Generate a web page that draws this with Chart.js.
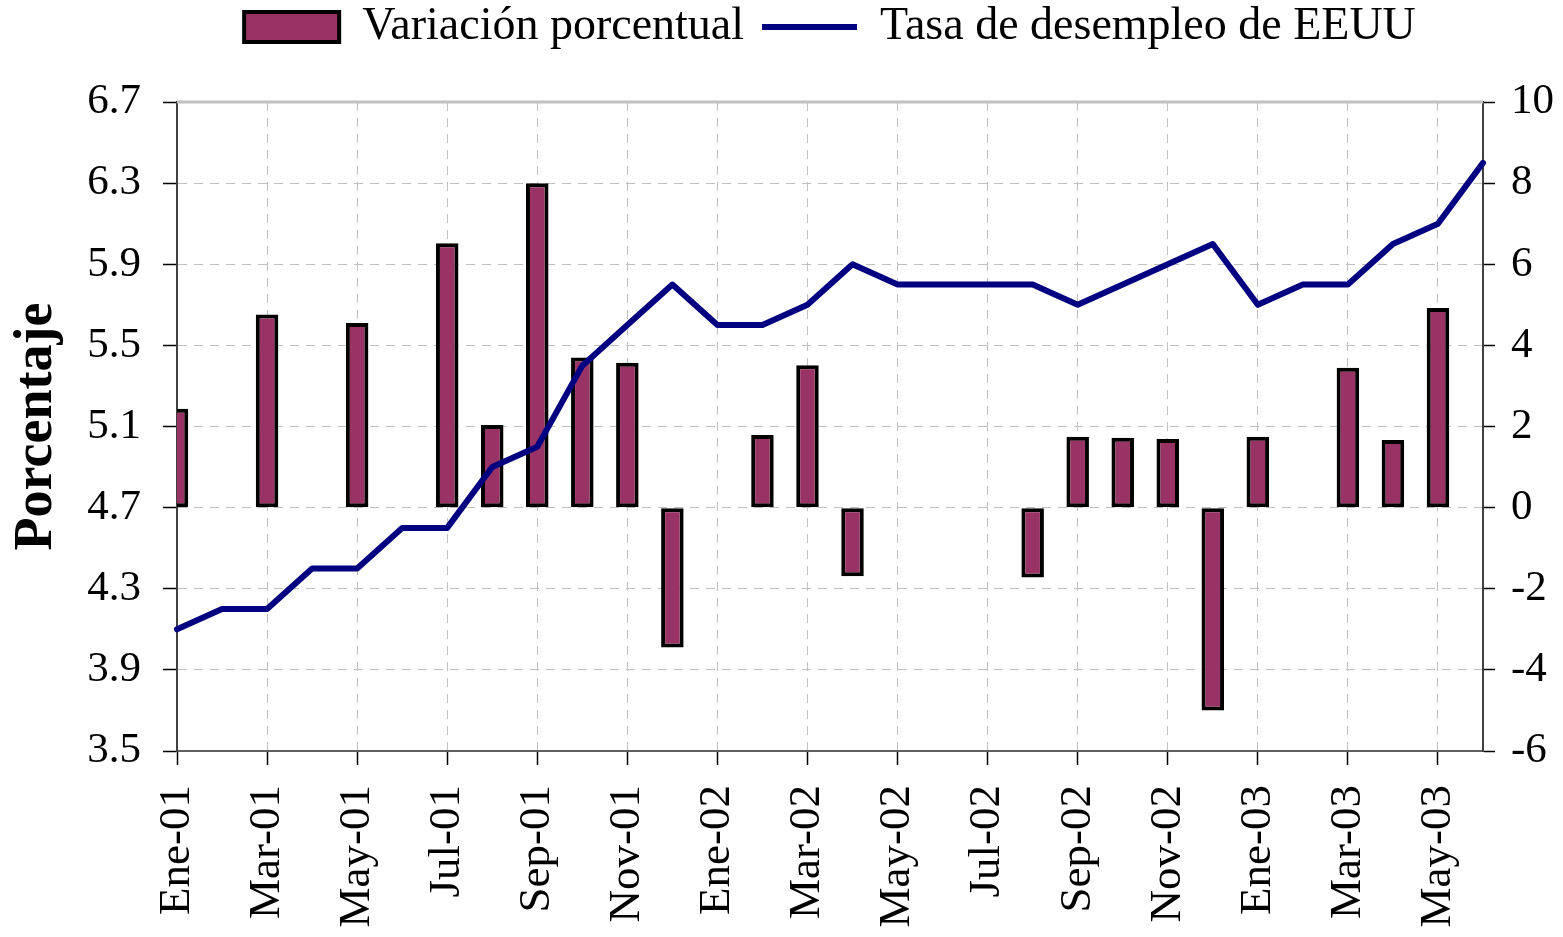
<!DOCTYPE html>
<html lang="es">
<head>
<meta charset="utf-8">
<title>Tasa de desempleo de EEUU</title>
<script src="https://cdn.jsdelivr.net/npm/chart.js@4.4.1/dist/chart.umd.min.js"></script>
<style>
  html, body { margin: 0; padding: 0; background: #fff; }
  #chart { display: block; }
</style>
</head>
<body>
<canvas id="chart" width="1563" height="937"></canvas>
<script>
const months = [
  'Ene-01', 'Feb-01', 'Mar-01', 'Abr-01', 'May-01', 'Jun-01', 'Jul-01', 'Ago-01', 'Sep-01', 'Oct-01', 'Nov-01', 'Dic-01',
  'Ene-02', 'Feb-02', 'Mar-02', 'Abr-02', 'May-02', 'Jun-02', 'Jul-02', 'Ago-02', 'Sep-02', 'Oct-02', 'Nov-02', 'Dic-02',
  'Ene-03', 'Feb-03', 'Mar-03', 'Abr-03', 'May-03', 'Jun-03'
];

// Tasa de desempleo (eje izquierdo)
const unemploymentRate = [
  4.1, 4.2, 4.2, 4.4, 4.4, 4.6, 4.6, 4.9, 5.0, 5.4, 5.6, 5.8,
  5.6, 5.6, 5.7, 5.9, 5.8, 5.8, 5.8, 5.8, 5.7, 5.8, 5.9, 6.0,
  5.7, 5.8, 5.8, 6.0, 6.1, 6.4
];

// Variación porcentual (eje derecho)
const percentChange = [
  2.44, 0, 4.76, 0, 4.55, 0, 6.52, 2.04, 8.0, 3.7, 3.57, -3.45,
  0, 1.79, 3.51, -1.69, 0, 0, 0, -1.72, 1.75, 1.72, 1.69, -5.0,
  1.75, 0, 3.45, 1.67, 4.92, 0
];

const rateTicks = [3.5, 3.9, 4.3, 4.7, 5.1, 5.5, 5.9, 6.3, 6.7];
const changeTicks = [-6, -4, -2, 0, 2, 4, 6, 8, 10];

const FONT = "'Liberation Serif', 'Times New Roman', serif";

// solid grey line along the top of the plot area
const topBorder = {
  id: 'topBorder',
  beforeDatasetsDraw(chart) {
    const { ctx, chartArea } = chart;
    ctx.save();
    ctx.strokeStyle = '#c0c0c0';
    ctx.lineWidth = 3;
    ctx.beginPath();
    ctx.moveTo(chartArea.left, chartArea.top);
    ctx.lineTo(chartArea.right, chartArea.top);
    ctx.stroke();
    ctx.restore();
  }
};

new Chart(document.getElementById('chart').getContext('2d'), {
  type: 'bar',
  data: {
    labels: months,
    datasets: [{
      type: 'bar',
      label: 'Variación porcentual',
      data: percentChange,
      yAxisID: 'y1',
      backgroundColor: '#993366',
      borderColor: '#000000',
      borderWidth: 4,
      borderSkipped: false,
      barPercentage: 0.5,
      categoryPercentage: 1,
      clip: 0,
      order: 2
    }, {
      type: 'line',
      label: 'Tasa de desempleo de EEUU',
      data: unemploymentRate,
      yAxisID: 'y',
      borderColor: '#000080',
      backgroundColor: '#000080',
      borderWidth: 6,
      borderCapStyle: 'round',
      borderJoinStyle: 'round',
      pointRadius: 0,
      tension: 0,
      order: 1
    }]
  },
  options: {
    responsive: false,
    animation: false,
    devicePixelRatio: 1,
    layout: { padding: { top: -14, left: 0, right: 0, bottom: 0 } },
    plugins: {
      legend: {
        position: 'top',
        fullSize: false,
        labels: {
          usePointStyle: true,
          pointStyleWidth: 95,
          boxHeight: 30,
          padding: 18,
          color: '#000',
          font: { family: FONT, size: 46 },
          generateLabels(chart) {
            const items = Chart.defaults.plugins.legend.labels.generateLabels(chart);
            items.sort((a, b) => a.datasetIndex - b.datasetIndex);
            items.forEach(item => {
              item.pointStyle = item.datasetIndex === 0 ? 'rect' : 'line';
            });
            return items;
          }
        }
      },
      // empty spacer between legend and plot
      title: { display: true, text: '', weight: 500, padding: { top: 0, bottom: 30 }, font: { size: 10 } },
      tooltip: { enabled: false }
    },
    scales: {
      x: {
        type: 'category',
        offset: false,
        grid: {
          offset: false,
          color: c => (c.index % 2 === 0 ? '#c0c0c0' : 'rgba(0,0,0,0)'),
          lineWidth: 1,
          tickColor: c => (c.index % 2 === 0 ? '#000' : 'rgba(0,0,0,0)'),
          tickLength: 14,
          tickWidth: 1.5,
          tickBorderDash: []
        },
        border: { display: true, color: '#606060', width: 2, dash: [9, 7] },
        ticks: {
          autoSkip: false,
          minRotation: 90,
          maxRotation: 90,
          padding: 20,
          color: '#000',
          font: { family: FONT, size: 45 },
          callback: (v, i) => (i % 2 === 0 ? months[i] : '')
        },
        afterFit: s => { s.height = 186; }
      },
      y: {
        position: 'left',
        min: rateTicks[0],
        max: rateTicks[rateTicks.length - 1],
        afterBuildTicks: s => { s.ticks = rateTicks.map(v => ({ value: v })); },
        grid: {
          color: c => (c.index === 0 ? 'rgba(0,0,0,0)' : '#c0c0c0'),
          tickColor: '#000',
          tickLength: 14,
          tickWidth: 1.5,
          tickBorderDash: []
        },
        border: { color: '#404040', width: 2, dash: [9, 7] },
        ticks: {
          padding: 22,
          color: '#000',
          font: { family: FONT, size: 43 },
          callback: v => Number(v).toFixed(1)
        },
        title: {
          display: true,
          text: 'Porcentaje',
          color: '#000',
          font: { family: FONT, size: 54, weight: 'bold' },
          padding: { top: 5, bottom: 0 }
        },
        afterFit: s => { s.width = 177; }
      },
      y1: {
        position: 'right',
        min: changeTicks[0],
        max: changeTicks[changeTicks.length - 1],
        afterBuildTicks: s => { s.ticks = changeTicks.map(v => ({ value: v })); },
        grid: {
          drawOnChartArea: false,
          tickColor: '#000',
          tickLength: 12,
          tickWidth: 1.5
        },
        border: { color: '#404040', width: 2 },
        ticks: {
          padding: 16,
          color: '#000',
          font: { family: FONT, size: 43 },
          callback: v => String(v)
        },
        afterFit: s => { s.width = 80; }
      }
    }
  },
  plugins: [topBorder]
});
</script>
</body>
</html>
